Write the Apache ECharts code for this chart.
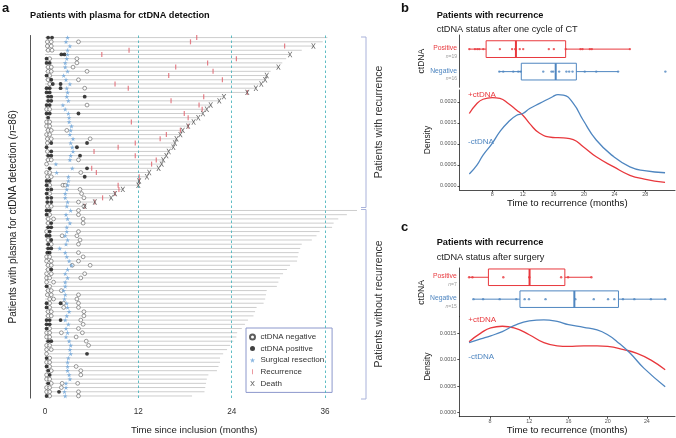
<!DOCTYPE html>
<html><head><meta charset="utf-8">
<script src="https://cdn.jsdelivr.net/npm/echarts@6/dist/echarts.min.js"></script>
<style>html,body{margin:0;padding:0;background:#fff}#c{width:676px;height:438px}</style>
</head><body><div id="c"></div>
<script>
// ---------- Panel a data ----------
const followUp = [36.3,35.7,34.5,33.0,31.5,31.0,30.5,30.0,29.0,28.5,28.3,27.8,27.1,26.0,23.0,22.4,21.3,20.8,20.3,19.7,19.1,18.4,17.7,17.4,16.9,16.7,16.5,15.9,15.6,15.2,15.0,14.6,13.4,13.1,12.1,12.0,10.0,9.0,8.5,6.4,5.1,
  40.1,38.8,37.7,37.1,36.9,35.3,34.9,34.3,33.0,32.8,32.6,32.5,32.4,31.5,31.1,30.6,30.2,30.0,29.8,28.5,28.4,28.3,28.1,27.2,27.0,26.8,26.1,25.7,25.3,24.7,24.6,24.2,23.8,23.4,22.9,22.5,22.5,22.3,22.1,21.0,20.8,20.7,20.6,20.5,18.9];
const recurrenceTimes = [19.5,18.7,30.8,10.8,7.3,24.6,20.9,16.8,21.6,15.9,22.8,9.0,10.7,26.0,20.4,16.2,19.8,20.2,17.9,18.4,11.1,18.4,17.4,15.6,14.8,11.6,9.4,6.3,11.6,14.3,13.7,6.0,6.6,12.1,12.1,9.4,9.5,9.0,7.4,6.4,5.1];
const deathRows = [2,4,7,9,10,11,12,13,14,15,16,17,18,19,20,21,22,23,24,25,26,27,28,29,30,31,32,33,34,35,36,37,38,39,40];
const surgeryTimes = [2.9,2.7,3.2,2.9,2.9,2.8,2.6,2.6,2.9,2.4,2.7,3.2,2.8,2.9,2.8,3.0,2.3,2.6,3.0,3.1,3.1,3.4,3.3,3.2,3.6,3.3,3.5,3.6,3.3,3.2,1.4,3.5,1.5,3.0,3.0,2.9,2.8,2.6,2.6,2.9,2.8,
  3.3,2.7,2.9,3.2,2.8,2.8,2.6,2.9,2.7,1.9,2.6,2.8,3.1,3.4,2.9,2.6,2.9,2.6,2.6,2.4,2.6,2.5,2.8,2.9,3.1,2.8,2.6,3.0,2.7,2.9,2.7,3.1,3.3,3.2,3.3,3.0,2.9,2.9,2.9,3.1,3.2,2.7,2.7,2.5,2.6];
// [time, row]
const ctdnaPos = [[0.4,0],[0.9,0],[2.1,4],[2.5,4],[0.2,5],[0.2,6],[0.6,6],[0.2,9],[0.8,10],[1.0,11],[2.0,11],[0.2,12],[0.6,12],[2.0,12],[0.2,13],[0.6,13],[0.4,14],[0.8,14],[5.1,14],[0.4,15],[0.8,15],[0.2,16],[0.6,16],[0.2,18],[0.6,18],[4.3,18],[0.4,19],[0.8,25],[5.4,25],[0.2,26],[4.1,26],[0.8,27],[0.4,28],[0.8,28],[4.5,28],[0.6,31],[5.4,31],[5.1,33],[0.2,34],[0.6,34],[0.2,35],[0.3,36],[0.8,36],[0.2,37],[0.3,38],[0.8,38],[0.3,39],[0.8,39],
  [0.2,41],[0.6,41],[0.2,42],[0.8,44],[0.4,45],[0.8,45],[0.6,46],[0.2,47],[0.6,47],[0.8,48],[0.4,49],[0.4,50],[0.8,50],[0.3,51],[0.6,51],[0.8,55],[0.2,59],[0.2,63],[2.0,63],[0.2,64],[0.2,67],[0.6,67],[2.0,67],[0.2,68],[0.6,68],[0.2,69],[0.4,72],[0.8,72],[5.4,75],[0.2,76],[0.2,78],[0.4,79],[0.6,80],[0.4,82],[1.8,84],[0.2,85]];
const ctdnaNeg = [[0.3,1],[0.8,1],[4.3,1],[0.3,2],[0.8,2],[0.4,3],[0.9,3],[0.6,5],[4.1,5],[4.1,6],[0.4,7],[0.8,7],[3.6,7],[0.4,8],[0.8,8],[5.4,8],[0.6,9],[0.4,10],[4.3,10],[0.6,11],[5.1,12],[5.4,16],[0.2,17],[0.6,17],[0.2,20],[0.6,20],[0.2,21],[0.6,21],[0.4,22],[0.8,22],[2.8,22],[0.2,23],[0.6,23],[0.3,24],[0.8,24],[5.8,24],[0.3,25],[0.3,27],[0.4,29],[0.8,29],[4.3,29],[0.2,30],[0.2,32],[0.6,32],[4.6,32],[0.3,33],[0.8,33],[0.6,35],[2.3,35],[2.6,35],[4.5,36],[0.6,37],[4.7,37],[5.0,38],[4.3,39],[0.3,40],[0.8,40],[5.0,40],
  [4.3,41],[0.6,42],[4.3,42],[0.4,43],[1.1,43],[4.9,43],[0.4,44],[4.9,44],[0.2,46],[4.3,46],[2.2,47],[4.1,47],[0.4,48],[4.5,48],[0.8,49],[4.3,49],[4.3,51],[0.2,52],[0.6,52],[4.9,52],[0.2,53],[0.8,53],[4.3,53],[0.4,54],[0.8,54],[3.5,54],[5.8,54],[0.4,55],[0.2,56],[0.8,56],[5.1,56],[0.2,57],[0.6,57],[4.6,57],[0.2,58],[1.1,58],[0.6,59],[0.4,60],[0.8,60],[2.1,60],[0.3,61],[0.8,61],[4.3,61],[0.6,62],[1.1,62],[4.1,62],[0.6,63],[2.4,63],[4.3,63],[0.6,64],[2.4,64],[4.3,64],[0.4,65],[0.8,65],[5.0,65],[0.4,66],[0.8,66],[5.0,66],[4.6,67],[4.9,68],[0.6,69],[4.3,69],[0.2,70],[0.6,70],[2.1,70],[4.8,70],[0.2,71],[0.6,71],[4.0,71],[5.3,72],[0.2,73],[0.6,73],[5.6,73],[0.2,74],[0.8,74],[0.2,75],[0.6,76],[0.2,77],[0.6,77],[0.6,78],[4.0,78],[0.8,79],[4.6,79],[0.2,80],[4.6,80],[0.2,81],[0.6,81],[0.8,82],[2.2,82],[4.2,82],[0.2,83],[0.6,83],[2.1,83],[0.2,84],[0.6,84],[4.3,84],[0.6,85],[4.3,85]];
const xTicksA = [0,12,24,36];
const dashedMonths = [12,24,36];

// ---------- Panel b data ----------
const bN = {Positive:19, Negative:16};
const bPosStats = [5.0,7.2,11.1,17.6,26.0];
const bNegStats = [8.9,11.8,16.3,19.0,24.5];
const bPosPoints = [5.0,5.74,6.05,6.31,6.83,9.0,10.6,11.0,11.1,11.6,12.05,15.4,16.06,17.6,19.54,19.8,20.76,21.02,26.0];
const bNegPoints = [8.92,9.44,10.75,11.4,11.7,14.67,15.75,15.97,16.75,17.7,18.06,18.5,20.1,21.6,24.46,30.64];
const bPosDensX = [5.0,6.0,6.8,8.0,9.0,10.1,11.2,12.0,12.9,14.2,15.9,17.3,18.6,19.9,21.6,23.9,26.0,27.9,30.6];
const bPosDensY = [0.00172,0.00196,0.00206,0.00210,0.00208,0.00196,0.00180,0.00168,0.00148,0.00125,0.00115,0.00114,0.00110,0.00093,0.00069,0.00045,0.00025,0.00016,0.00008];
const bNegDensX = [5.0,6.0,6.8,8.0,9.0,10.1,11.2,12.0,12.9,14.2,15.9,16.6,17.3,18.6,19.9,21.6,23.9,26.0,27.9,30.6];
const bNegDensY = [0.00028,0.00049,0.00073,0.00101,0.00129,0.00152,0.00168,0.00172,0.00184,0.00196,0.00212,0.00217,0.00216,0.00196,0.00156,0.00109,0.00069,0.00045,0.00036,0.00031];
const bXTicks = [8,12,16,20,24,28];

// ---------- Panel c data ----------
const cN = {Positive:7, Negative:15};
const cPosStats = [5.86,7.83,12.03,15.63,18.34];
const cNegStats = [6.3,11.05,16.6,21.1,25.9];
const cPosPoints = [5.86,6.2,9.35,12.0,15.25,15.96,18.34];
const cNegPoints = [6.3,7.29,8.98,10.68,11.53,11.97,13.66,16.7,18.58,20.04,20.68,21.56,22.72,24.41,25.87];
const cPosDensX = [5.86,7.05,8.07,9.25,10.44,12.0,13.49,14.85,16.0,17.56,18.92,20.0,21.63,22.99,24.34,25.87];
const cPosDensY = [0.00134,0.00150,0.00160,0.00163,0.00160,0.00147,0.00132,0.00126,0.00125,0.00126,0.00126,0.00125,0.00119,0.00112,0.00100,0.00081];
const cNegDensX = [5.86,7.05,8.07,9.25,10.44,12.0,13.49,14.85,16.0,17.56,18.92,20.0,20.96,22.3,23.69,25.87];
const cNegDensY = [0.00132,0.00139,0.00145,0.00153,0.00164,0.00173,0.00175,0.00172,0.00166,0.00161,0.00156,0.00147,0.00134,0.00112,0.00084,0.00049];
const cXTicks = [8,12,16,20,24];
const densTicksB = [0,0.0005,0.0010,0.0015,0.0020];
const densTicksC = [0,0.0005,0.0010,0.0015];

// ---------- styling / layout ----------
const FONT = '"Liberation Sans", Arial, Helvetica, sans-serif';
const RED = '#E8383D', BLUE = '#4F86C0';
const STAR = 'path://M50,0L61.2,34.5L97.6,34.5L68.2,55.9L79.4,90.5L50,69.1L20.6,90.5L31.8,55.9L2.4,34.5L38.8,34.5Z';
const XMARK = 'path://M0,0H2L5,4.3L8,0H10L6,5.5L10,11H8L5,6.7L2,11H0L4,5.5Z';
const patients = followUp.map((_, i) => 'P' + (i + 1));
const BOX = { b: {pos: 0.73, neg: 0.30, half: 0.16}, c: {pos: 0.81, neg: 0.36, half: 0.17} };

function boxRender(half, color) {
  return function (params, api) {
    const lo = api.value(0), q1 = api.value(1), md = api.value(2), q3 = api.value(3), hi = api.value(4), y = api.value(5);
    const a = api.coord([q1, y + half]), b = api.coord([q3, y - half]);
    const pl = api.coord([lo, y]), ph = api.coord([hi, y]);
    const m1 = api.coord([md, y + half]), m2 = api.coord([md, y - half]);
    return { type: 'group', children: [
      { type: 'line', shape: { x1: pl[0], y1: pl[1], x2: a[0], y2: pl[1] }, style: { stroke: color, lineWidth: 1 } },
      { type: 'line', shape: { x1: b[0], y1: pl[1], x2: ph[0], y2: pl[1] }, style: { stroke: color, lineWidth: 1 } },
      { type: 'rect', shape: { x: a[0], y: a[1], width: b[0] - a[0], height: b[1] - a[1] }, style: { stroke: color, fill: 'rgba(0,0,0,0)', lineWidth: 1 } },
      { type: 'line', shape: { x1: m1[0], y1: m1[1], x2: m2[0], y2: m2[1] }, style: { stroke: color, lineWidth: 2 } }
    ]};
  };
}
function zip(xs, ys) { return xs.map((x, i) => [x, ys[i]]); }

const densAxisCommon = {
  type: 'value', axisLine: { onZero: false, lineStyle: { color: '#222', width: 0.8 } },
  axisTick: { length: 2, lineStyle: { color: '#222', width: 0.8 } }, splitLine: { show: false }
};
function boxYAxis(gridIndex, box, n) {
  const off = 0.055;
  return {
    type: 'value', gridIndex, min: 0, max: 1, name: 'ctDNA', nameLocation: 'middle', nameGap: 27,
    nameTextStyle: { fontSize: 8.5, color: '#222', fontFamily: FONT },
    axisLine: { onZero: false, lineStyle: { color: '#222', width: 0.8 } }, axisTick: { show: false }, splitLine: { show: false },
    axisLabel: {
      customValues: [box.neg - off, box.pos - off], margin: 2.5, align: 'right',
      formatter: v => v > 0.5 ? '{p|Positive}\n{ni|n}{nn|=' + n.Positive + '}' : '{q|Negative}\n{ni|n}{nn|=' + n.Negative + '}',
      rich: {
        p: { color: RED, fontSize: 6.8, fontFamily: FONT, lineHeight: 9, align: 'right' },
        q: { color: BLUE, fontSize: 6.8, fontFamily: FONT, lineHeight: 9, align: 'right' },
        ni: { color: '#999', fontSize: 5, fontStyle: 'italic', fontFamily: FONT, lineHeight: 7 },
        nn: { color: '#999', fontSize: 5, fontFamily: FONT, lineHeight: 7 }
      }
    }
  };
}

const option = {
  animation: false,
  backgroundColor: '#fff',
  textStyle: { fontFamily: FONT },
  grid: [
    { left: 30, top: 35.5, width: 328.3, height: 362.6, outerBoundsMode: 'none', containLabel: false },
    { left: 459.5, top: 35, width: 215.5, height: 52.3, outerBoundsMode: 'none', containLabel: false },
    { left: 459.5, top: 90, width: 215.5, height: 100, outerBoundsMode: 'none', containLabel: false },
    { left: 459.3, top: 268, width: 215.7, height: 48.7, outerBoundsMode: 'none', containLabel: false },
    { left: 459.3, top: 316.7, width: 215.7, height: 100, outerBoundsMode: 'none', containLabel: false }
  ],
  xAxis: [
    { type: 'value', gridIndex: 0, min: -1.93, max: 40.27,
      name: 'Time since inclusion (months)', nameLocation: 'middle', nameGap: 27,
      nameTextStyle: { fontSize: 9.6, color: '#222', fontFamily: FONT },
      axisLine: { onZero: false, lineStyle: { color: '#555', width: 1 } },
      axisTick: { customValues: xTicksA, length: 3, lineStyle: { color: '#555' } },
      axisLabel: { customValues: xTicksA, fontSize: 8.2, color: '#333', margin: 10, fontFamily: FONT },
      splitLine: { show: false } },
    { type: 'value', gridIndex: 1, min: 3.72, max: 31.9, show: false },
    Object.assign({}, densAxisCommon, { gridIndex: 2, min: 3.72, max: 31.9,
      name: 'Time to recurrence (months)', nameLocation: 'middle', nameGap: 7.5,
      nameTextStyle: { fontSize: 9.6, color: '#111', fontFamily: FONT },
      axisTick: { customValues: bXTicks, length: 2, lineStyle: { color: '#222', width: 0.8 } },
      axisLabel: { customValues: bXTicks, fontSize: 5.4, color: '#555', margin: 2, fontFamily: FONT } }),
    { type: 'value', gridIndex: 3, min: 4.86, max: 26.87, show: false },
    Object.assign({}, densAxisCommon, { gridIndex: 4, min: 4.86, max: 26.87,
      name: 'Time to recurrence (months)', nameLocation: 'middle', nameGap: 8.5,
      nameTextStyle: { fontSize: 9.6, color: '#111', fontFamily: FONT },
      axisTick: { customValues: cXTicks, length: 2, lineStyle: { color: '#222', width: 0.8 } },
      axisLabel: { customValues: cXTicks, fontSize: 5.4, color: '#555', margin: 2, fontFamily: FONT } })
  ],
  yAxis: [
    { type: 'category', gridIndex: 0, inverse: true, data: patients,
      name: 'Patients with plasma for ctDNA detection ({i|n}=86)', nameLocation: 'middle', nameGap: 12,
      nameTextStyle: { fontSize: 10, color: '#222', fontFamily: FONT, rich: { i: { fontStyle: 'italic', fontSize: 10, color: '#222', fontFamily: FONT } } },
      axisLine: { onZero: false, lineStyle: { color: '#555', width: 1 } },
      axisTick: { alignWithLabel: true, interval: 0, length: 2, lineStyle: { color: '#555', width: 0.7 } },
      axisLabel: { show: false }, splitLine: { show: false } },
    boxYAxis(1, BOX.b, bN),
    Object.assign({}, densAxisCommon, { gridIndex: 2, min: -0.0001, max: 0.00228,
      name: 'Density', nameLocation: 'middle', nameGap: 27,
      nameTextStyle: { fontSize: 8.5, color: '#222', fontFamily: FONT },
      axisTick: { customValues: densTicksB, length: 2, lineStyle: { color: '#222', width: 0.8 } },
      axisLabel: { customValues: densTicksB, formatter: v => v.toFixed(4), fontSize: 5.4, color: '#555', margin: 3, fontFamily: FONT } }),
    boxYAxis(3, BOX.c, cN),
    Object.assign({}, densAxisCommon, { gridIndex: 4, min: -0.0000755, max: 0.00181,
      name: 'Density', nameLocation: 'middle', nameGap: 27,
      nameTextStyle: { fontSize: 8.5, color: '#222', fontFamily: FONT },
      axisTick: { customValues: densTicksC, length: 2, lineStyle: { color: '#222', width: 0.8 } },
      axisLabel: { customValues: densTicksC, formatter: v => v.toFixed(4), fontSize: 5.4, color: '#555', margin: 3, fontFamily: FONT } })
  ],
  legend: {
    data: [
      { name: 'ctDNA negative' }, { name: 'ctDNA positive' }, { name: 'Surgical resection' },
      { name: 'Recurrence', icon: 'path://M0,0H1.6V10H0Z' }, { name: 'Death' }
    ],
    orient: 'vertical', left: 246, top: 328, itemWidth: 6, itemHeight: 5, itemGap: 3.6, itemTextGap: 6,
    padding: [5, 8, 5, 3], borderColor: '#8C98CC', borderWidth: 1, backgroundColor: '#fff',
    selectedMode: false, textStyle: { fontSize: 8, color: '#333', fontFamily: FONT }
  },
  series: [
    { type: 'custom', name: 'followup', xAxisIndex: 0, yAxisIndex: 0, z: 1, silent: true,
      data: followUp.map((e, i) => [0, e, i]), encode: { x: [0, 1], y: 2 },
      renderItem: (params, api) => {
        const p1 = api.coord([api.value(0), api.value(2)]), p2 = api.coord([api.value(1), api.value(2)]);
        return { type: 'line', shape: { x1: p1[0], y1: p1[1], x2: p2[0], y2: p2[1] }, style: { stroke: '#CDCDCD', lineWidth: 1 } };
      } },
    { type: 'scatter', name: 'Recurrence', xAxisIndex: 0, yAxisIndex: 0, z: 3,
      data: recurrenceTimes.map((t, i) => [t, i]), symbol: 'rect', symbolSize: [1.2, 5],
      itemStyle: { color: '#E0606C' },
      markLine: { silent: true, symbol: 'none', label: { show: false },
        lineStyle: { type: [2.5, 2.5], color: '#4DB5BD', width: 0.9 },
        data: dashedMonths.map(m => ({ xAxis: m })) } },
    { type: 'scatter', name: 'ctDNA negative', xAxisIndex: 0, yAxisIndex: 0, z: 4,
      data: ctdnaNeg, symbol: 'circle', symbolSize: 3.8,
      itemStyle: { color: '#fff', borderColor: '#333', borderWidth: 0.6 } },
    { type: 'scatter', name: 'ctDNA positive', xAxisIndex: 0, yAxisIndex: 0, z: 4,
      data: ctdnaPos, symbol: 'circle', symbolSize: 3.8, itemStyle: { color: '#111' } },
    { type: 'scatter', name: 'Surgical resection', xAxisIndex: 0, yAxisIndex: 0, z: 5,
      data: surgeryTimes.map((t, i) => [t, i]), symbol: STAR, symbolSize: 4.8, itemStyle: { color: '#6AA3D8' } },
    { type: 'scatter', name: 'Death', xAxisIndex: 0, yAxisIndex: 0, z: 5,
      data: deathRows.map(r => [followUp[r], r]), symbol: XMARK, symbolSize: [4.4, 5.4], itemStyle: { color: '#444' } },

    // panel b
    { type: 'custom', xAxisIndex: 1, yAxisIndex: 1, silent: true, renderItem: boxRender(BOX.b.half, RED),
      data: [bPosStats.concat([BOX.b.pos])], encode: { x: [0, 4], y: 5 } },
    { type: 'custom', xAxisIndex: 1, yAxisIndex: 1, silent: true, renderItem: boxRender(BOX.b.half, BLUE),
      data: [bNegStats.concat([BOX.b.neg])], encode: { x: [0, 4], y: 5 } },
    { type: 'scatter', xAxisIndex: 1, yAxisIndex: 1, symbolSize: 2.4, itemStyle: { color: RED },
      data: bPosPoints.map(v => [v, BOX.b.pos]), z: 3 },
    { type: 'scatter', xAxisIndex: 1, yAxisIndex: 1, symbolSize: 2.4, itemStyle: { color: BLUE },
      data: bNegPoints.map(v => [v, BOX.b.neg]), z: 3 },
    { type: 'line', xAxisIndex: 2, yAxisIndex: 2, smooth: 0.5, symbol: 'none',
      lineStyle: { color: RED, width: 1.3 }, data: zip(bPosDensX, bPosDensY) },
    { type: 'line', xAxisIndex: 2, yAxisIndex: 2, smooth: 0.5, symbol: 'none',
      lineStyle: { color: BLUE, width: 1.3 }, data: zip(bNegDensX, bNegDensY) },

    // panel c
    { type: 'custom', xAxisIndex: 3, yAxisIndex: 3, silent: true, renderItem: boxRender(BOX.c.half, RED),
      data: [cPosStats.concat([BOX.c.pos])], encode: { x: [0, 4], y: 5 } },
    { type: 'custom', xAxisIndex: 3, yAxisIndex: 3, silent: true, renderItem: boxRender(BOX.c.half, BLUE),
      data: [cNegStats.concat([BOX.c.neg])], encode: { x: [0, 4], y: 5 } },
    { type: 'scatter', xAxisIndex: 3, yAxisIndex: 3, symbolSize: 2.4, itemStyle: { color: RED },
      data: cPosPoints.map(v => [v, BOX.c.pos]), z: 3 },
    { type: 'scatter', xAxisIndex: 3, yAxisIndex: 3, symbolSize: 2.4, itemStyle: { color: BLUE },
      data: cNegPoints.map(v => [v, BOX.c.neg]), z: 3 },
    { type: 'line', xAxisIndex: 4, yAxisIndex: 4, smooth: 0.5, symbol: 'none',
      lineStyle: { color: RED, width: 1.3 }, data: zip(cPosDensX, cPosDensY) },
    { type: 'line', xAxisIndex: 4, yAxisIndex: 4, smooth: 0.5, symbol: 'none',
      lineStyle: { color: BLUE, width: 1.3 }, data: zip(cNegDensX, cNegDensY) }
  ],
  graphic: [
    { type: 'text', x: 2, y: 8, style: { text: 'a', font: 'bold 13px ' + FONT, fill: '#111', align: 'left', verticalAlign: 'middle' } },
    { type: 'text', x: 30, y: 15, style: { text: 'Patients with plasma for ctDNA detection', font: 'bold 9.2px ' + FONT, fill: '#111', align: 'left', verticalAlign: 'middle' } },
    { type: 'text', x: 401, y: 8, style: { text: 'b', font: 'bold 13px ' + FONT, fill: '#111', align: 'left', verticalAlign: 'middle' } },
    { type: 'text', x: 436.7, y: 15, style: { text: 'Patients with recurrence', font: 'bold 9.2px ' + FONT, fill: '#111', align: 'left', verticalAlign: 'middle' } },
    { type: 'text', x: 436.7, y: 29.3, style: { text: 'ctDNA status after one cycle of CT', font: '9.2px ' + FONT, fill: '#222', align: 'left', verticalAlign: 'middle' } },
    { type: 'text', x: 401, y: 227, style: { text: 'c', font: 'bold 13px ' + FONT, fill: '#111', align: 'left', verticalAlign: 'middle' } },
    { type: 'text', x: 436.7, y: 242.7, style: { text: 'Patients with recurrence', font: 'bold 9.2px ' + FONT, fill: '#111', align: 'left', verticalAlign: 'middle' } },
    { type: 'text', x: 436.7, y: 257.3, style: { text: 'ctDNA status after surgery', font: '9.2px ' + FONT, fill: '#222', align: 'left', verticalAlign: 'middle' } },
    { type: 'text', x: 468, y: 95, style: { text: '+ctDNA', font: '8px ' + FONT, fill: RED, align: 'left', verticalAlign: 'middle' } },
    { type: 'text', x: 468, y: 141.7, style: { text: '-ctDNA', font: '8px ' + FONT, fill: BLUE, align: 'left', verticalAlign: 'middle' } },
    { type: 'text', x: 468.3, y: 320, style: { text: '+ctDNA', font: '8px ' + FONT, fill: RED, align: 'left', verticalAlign: 'middle' } },
    { type: 'text', x: 468.3, y: 356.7, style: { text: '-ctDNA', font: '8px ' + FONT, fill: BLUE, align: 'left', verticalAlign: 'middle' } },
    { type: 'polyline', shape: { points: [[361, 37], [366, 37], [366, 207.5], [361, 207.5]] }, style: { stroke: '#A9B2DA', fill: null, lineWidth: 1 } },
    { type: 'polyline', shape: { points: [[361, 209.5], [366, 209.5], [366, 399], [361, 399]] }, style: { stroke: '#A9B2DA', fill: null, lineWidth: 1 } },
    { type: 'text', x: 379, y: 122, rotation: Math.PI / 2, style: { text: 'Patients with recurrence', font: '10.5px ' + FONT, fill: '#333', align: 'center', verticalAlign: 'middle' } },
    { type: 'text', x: 379, y: 304, rotation: Math.PI / 2, style: { text: 'Patients without recurrence', font: '10.5px ' + FONT, fill: '#333', align: 'center', verticalAlign: 'middle' } }
  ]
};
const chart = echarts.init(document.getElementById('c'), null, { renderer: 'canvas', width: 676, height: 438 });
chart.setOption(option);
</script>
</body></html>
